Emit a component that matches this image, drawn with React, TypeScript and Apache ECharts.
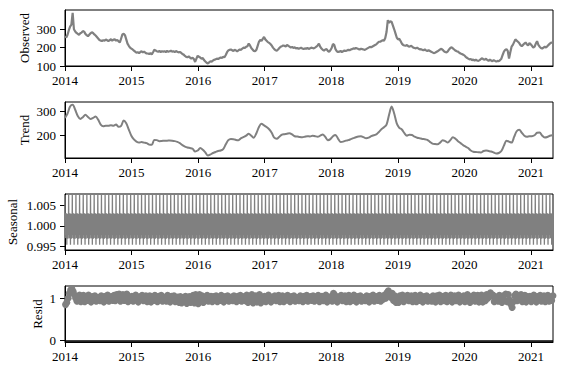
import React, { useEffect, useRef } from "react";
import * as echarts from "echarts";

// ---- axis ticks ----
const YEAR_TICKS = [2014, 2015, 2016, 2017, 2018, 2019, 2020, 2021];
const START_YEAR = 2014;
const END_YEAR = 2021.33;
const OBS_TICKS = [100, 200, 300];
const TREND_TICKS = [200, 300];
const SEASONAL_TICKS = [0.995, 1.0, 1.005];
const RESID_TICKS = [0, 1];

// ---- observed, one value per week from 2014-01-01 ----
const OBSERVED_WEEKLY = [
  // 2014
  262, 255, 270, 295, 315, 325, 390, 300, 288, 280, 275, 270, 278,
  282, 290, 287, 275, 268, 262, 270, 278, 284, 280, 272, 266, 258,
  250, 242, 238, 236, 240, 238, 244, 240, 236, 240, 246, 238, 244,
  245, 238, 242, 234, 228, 250, 272, 276, 268, 245, 222, 210, 200,
  // 2015
  195, 190, 184, 178, 172, 175, 170, 176, 180, 174, 178, 172, 168,
  168, 165, 170, 163, 175, 188, 185, 180, 178, 182, 176, 180, 178,
  180, 176, 182, 178, 180, 183, 178, 180, 176, 181, 178, 174, 176,
  172, 165, 162, 155, 150, 148, 152, 146, 140, 145, 138, 122, 140,
  // 2016
  156, 150, 146, 140, 143, 132, 125, 118, 114, 120, 126, 124, 130,
  134, 136, 140, 138, 142, 146, 144, 150, 148, 160, 175, 185, 188,
  190, 186, 182, 188, 185, 180, 186, 190, 188, 195, 200, 198, 205,
  208, 222, 212, 198, 190, 182, 180, 188, 210, 232, 242, 236, 248,
  // 2017
  258, 245, 238, 230, 226, 220, 212, 200, 192, 186, 184, 190, 198,
  205, 208, 212, 210, 206, 214, 210, 205, 200, 204, 198, 202, 196,
  198, 194, 196, 200, 195, 192, 196, 194, 198, 193, 196, 200, 198,
  196, 200, 205, 212, 222, 205, 195, 188, 184, 190, 192, 182, 178,
  // 2018
  186, 198, 220, 215, 192, 180, 176, 178, 182, 176, 180, 184, 182,
  185, 188, 186, 190, 192, 196, 194, 198, 195, 192, 190, 194, 192,
  190, 188, 192, 196, 200, 204, 202, 206, 210, 214, 218, 225, 232,
  232, 236, 240, 238, 252, 285, 350, 335, 344, 340, 320, 300, 278,
  // 2019
  255, 245, 248, 236, 222, 215, 212, 210, 214, 208, 205, 210, 206,
  200, 198, 196, 200, 195, 190, 192, 188, 186, 190, 185, 182, 186,
  182, 178, 174, 170, 172, 176, 180, 185, 190, 194, 188, 180, 176,
  174, 180, 190, 198, 202, 196, 190, 184, 180, 178, 172, 168, 165,
  // 2020
  162, 158, 150, 145, 140, 136, 138, 132, 135, 130, 134, 130, 128,
  132, 138, 142, 136, 134, 140, 132, 128, 135, 130, 126, 132, 128,
  124, 128, 126, 132, 140, 160, 178, 188, 192, 182, 140, 175, 205,
  215, 230, 245, 238, 232, 225, 214, 208, 215, 222, 228, 218, 212,
  // 2021
  225, 218, 210, 200, 205, 222, 235, 215, 205, 198, 195, 200, 205,
  200, 208, 215, 222, 228, 226,
];

// ---- trend, one value per two weeks ----
const TREND_BIWEEKLY = [
  272, 290, 318, 325, 305, 280, 268, 275, 285, 276, 268, 272, 278,
  265, 245, 238, 240, 240, 242, 240, 245, 236, 240, 262, 250, 225,
  200, 185, 176, 172, 174, 172, 170, 164, 163, 183, 182, 178, 179,
  180, 180, 181, 180, 178, 175, 170, 162, 156, 152, 150, 147, 136,
  140, 150, 143, 132, 120, 124, 130, 134, 138, 140, 146, 165, 182,
  187, 186, 183, 182, 190, 195, 200, 208, 200, 192, 210, 235, 248,
  242, 235, 226, 212, 192, 188, 196, 204, 206, 208, 210, 205, 198,
  197, 195, 194, 196, 198, 197, 200, 198, 196, 200, 205, 195, 182,
  186, 198, 203, 188, 175, 176, 180, 182, 186, 190, 194, 197, 198,
  194, 190, 192, 198, 202, 205, 215, 226, 234, 245, 285, 318, 290,
  250, 232, 225, 210, 200, 204, 203, 196, 192, 190, 187, 186, 183,
  175, 168, 166, 165, 172, 182, 178, 172, 182, 194, 188, 178, 170,
  162, 156, 150, 140, 135, 134, 133, 132, 138, 140, 138, 136, 132,
  128, 130, 138, 160, 180, 176, 172, 195, 218, 224, 212, 200, 196,
  198, 198, 202, 212, 213, 200, 193, 195, 200, 202,
];

// ---- seasonal: one 20-day cycle of the periodic component ----
const SEASONAL_PATTERN = [
  1.0076, 1.0012, 0.9978, 1.003, 0.997, 1.0022, 0.9985, 1.0031, 0.9968, 1.0018,
  0.9953, 1.0026, 0.9975, 1.003, 0.9982, 1.0015, 0.9968, 1.0028, 0.999, 1.0005,
];

// ---- residual, one value per week ----
const RESID_WEEKLY = [
  // 2014
  0.85, 0.9, 1.0, 1.12, 1.2, 1.22, 1.16, 1.08, 1.0, 0.93, 1.01, 1.08, 0.92,
  0.97, 1.07, 0.92, 1.02, 0.95, 1.08, 1.0, 0.91, 1.04, 0.98, 1.06, 0.93, 1.01,
  1.02, 0.94, 1.06, 0.99, 0.91, 1.05, 0.96, 1.08, 0.93, 1.0, 1.04, 0.95, 1.07,
  0.94, 1.09, 0.98, 1.1, 0.93, 1.02, 1.09, 0.95, 0.99, 1.1, 0.92, 1.03, 0.96,
  // 2015
  1.05, 0.93, 1.01, 1.08, 0.96, 0.91, 1.03, 0.99, 1.07, 0.94, 1.0, 1.06, 0.92,
  0.98, 1.06, 0.91, 1.03, 0.95, 1.07, 1.0, 0.92, 1.05, 0.97, 1.07, 0.93, 1.02,
  1.01, 0.93, 1.07, 0.98, 0.91, 1.05, 0.95, 1.06, 0.92, 0.99, 1.03, 0.9, 1.04,
  0.89, 1.02, 0.96, 1.05, 0.88, 0.99, 1.04, 0.9, 0.97, 1.07, 0.89, 1.09, 0.95,
  // 2016
  0.87, 1.09, 0.99, 1.06, 0.9, 1.02, 0.95, 1.07, 0.93, 1.0, 1.05, 0.92, 1.04,
  0.96, 1.06, 0.92, 1.01, 0.95, 1.07, 0.99, 0.91, 1.04, 0.97, 1.06, 0.93, 1.0,
  1.03, 0.94, 1.06, 0.98, 0.92, 1.05, 0.95, 1.07, 0.93, 1.0, 1.04, 0.94, 1.08,
  0.9, 1.04, 0.97, 1.09, 0.89, 1.01, 1.06, 0.91, 0.98, 1.09, 0.89, 1.03, 0.95,
  // 2017
  1.05, 0.92, 1.01, 1.08, 0.96, 0.91, 1.03, 0.98, 1.06, 0.94, 1.0, 1.07, 0.92,
  0.97, 1.06, 0.92, 1.02, 0.96, 1.07, 1.0, 0.92, 1.04, 0.98, 1.06, 0.93, 1.01,
  1.02, 0.94, 1.06, 0.99, 0.92, 1.05, 0.96, 1.07, 0.93, 1.0, 1.04, 0.95, 1.06,
  0.93, 1.03, 0.98, 1.07, 0.92, 1.01, 1.05, 0.94, 0.99, 1.08, 0.91, 1.02, 0.97,
  // 2018
  1.04, 0.93, 1.12, 1.08, 0.96, 0.91, 1.03, 0.99, 1.07, 0.94, 1.0, 1.06, 0.92,
  0.97, 1.07, 0.92, 1.02, 0.95, 1.08, 1.0, 0.91, 1.04, 0.98, 1.06, 0.93, 1.01,
  1.02, 0.94, 1.06, 0.99, 0.91, 1.05, 0.96, 1.08, 0.93, 1.0, 1.04, 0.95, 1.07,
  0.93, 1.03, 0.98, 1.08, 1.0, 1.14, 1.18, 1.1, 1.02, 1.12, 0.95, 1.06, 0.9,
  // 2019
  1.0, 0.9, 1.06, 0.96, 1.08, 0.92, 1.03, 0.99, 1.07, 0.94, 1.0, 1.06, 0.92,
  0.97, 1.07, 0.92, 1.02, 0.95, 1.08, 1.0, 0.91, 1.04, 0.98, 1.06, 0.93, 1.01,
  1.02, 0.93, 1.06, 0.99, 0.91, 1.06, 0.96, 1.08, 0.92, 1.0, 1.05, 0.94, 1.07,
  0.92, 1.04, 0.98, 1.08, 0.91, 1.01, 1.06, 0.94, 0.99, 1.08, 0.91, 1.02, 0.96,
  // 2020
  1.06, 0.92, 1.01, 1.09, 0.95, 0.9, 1.04, 0.99, 1.08, 0.93, 1.0, 1.07, 0.91,
  0.96, 1.08, 0.91, 1.03, 0.94, 1.09, 1.0, 1.06, 1.13, 1.05, 1.08, 0.92, 1.01,
  1.03, 0.93, 1.07, 0.98, 0.9, 1.06, 0.95, 1.1, 0.92, 1.09, 0.96, 0.86, 0.78,
  0.92, 1.06, 1.1, 0.94, 1.05, 0.98, 1.09, 0.92, 1.03, 1.07, 0.91, 1.04, 0.96,
  // 2021
  1.05, 0.92, 1.01, 1.08, 0.96, 0.91, 1.04, 0.99, 1.07, 0.93, 1.0, 1.06, 0.92,
  0.97, 1.07, 0.93, 1.02, 0.95, 1.06,
];

const FONT = "Liberation Serif, Times New Roman, serif";
const GRAY = "#808080";

const dayToYear = (d: number) => START_YEAR + d / 365.25;

export default function App() {
  const ref = useRef<HTMLDivElement>(null);

  useEffect(() => {
    document.body.style.margin = "0";
    if (!ref.current) return;
    const chart = echarts.init(ref.current, null, { renderer: "svg" });

    const observed = OBSERVED_WEEKLY.map((v, i) => [dayToYear(i * 7), v]);
    const trend = TREND_BIWEEKLY.map((v, i) => [dayToYear(i * 14), v]);
    const resid = RESID_WEEKLY.map((v, i) => [dayToYear(i * 7 + 3), v]);
    const nDays = Math.floor((END_YEAR - START_YEAR) * 365.25) + 1;
    const seasonal: number[][] = [];
    for (let d = 0; d < nDays; d++) {
      seasonal.push([dayToYear(d), SEASONAL_PATTERN[d % SEASONAL_PATTERN.length]]);
    }

    const tops = [10, 102, 194, 286];
    const grid = tops.map((t) => ({
      left: 65,
      right: 18,
      top: t,
      height: 56,
      show: true,
      borderColor: "#000",
      borderWidth: 1,
      backgroundColor: "transparent",
      containLabel: false,
      outerBoundsMode: "none",
    }));

    const xAxis = tops.map((_, i) => ({
      type: "value",
      gridIndex: i,
      min: START_YEAR,
      max: END_YEAR,
      splitLine: { show: false },
      axisLine: { show: true, onZero: false, lineStyle: { color: "#000", width: 1 } },
      axisTick: { show: true, length: 5, customValues: YEAR_TICKS, lineStyle: { color: "#000" } },
      axisLabel: {
        customValues: YEAR_TICKS,
        formatter: (v: number) => String(Math.round(v)),
        fontFamily: FONT,
        fontSize: 13,
        color: "#000",
        margin: 8,
      },
    }));

    const yBase = (
      i: number,
      name: string,
      min: number,
      max: number,
      ticks: number[],
      gap: number,
      fmt: (v: number) => string
    ) => ({
      type: "value",
      gridIndex: i,
      min,
      max,
      name,
      nameLocation: "middle",
      nameRotate: 90,
      nameGap: gap,
      nameMoveOverlap: false,
      nameTextStyle: { fontFamily: FONT, fontSize: 13, color: "#000" },
      splitLine: { show: false },
      axisLine: { show: true, onZero: false, lineStyle: { color: "#000", width: 1 } },
      axisTick: { show: true, length: 5, customValues: ticks, lineStyle: { color: "#000" } },
      axisLabel: {
        customValues: ticks,
        formatter: fmt,
        fontFamily: FONT,
        fontSize: 13,
        color: "#000",
        margin: 9,
      },
    });

    const yAxis = [
      yBase(0, "Observed", 100, 405, OBS_TICKS, 34, (v) => String(Math.round(v))),
      yBase(1, "Trend", 109.7, 336.5, TREND_TICKS, 34, (v) => String(Math.round(v))),
      yBase(2, "Seasonal", 0.99401, 1.00787, SEASONAL_TICKS, 46, (v) => v.toFixed(3)),
      yBase(3, "Resid", -0.04, 1.293, RESID_TICKS, 21, (v) => String(Math.round(v))),
    ];

    chart.setOption({
      animation: false,
      backgroundColor: "#fff",
      grid,
      xAxis,
      yAxis,
      series: [
        {
          type: "line",
          xAxisIndex: 0,
          yAxisIndex: 0,
          data: observed,
          showSymbol: false,
          lineStyle: { color: GRAY, width: 2.2 },
          clip: true,
        },
        {
          type: "line",
          xAxisIndex: 1,
          yAxisIndex: 1,
          data: trend,
          showSymbol: false,
          smooth: 0.3,
          lineStyle: { color: GRAY, width: 2 },
          clip: true,
        },
        {
          type: "line",
          xAxisIndex: 2,
          yAxisIndex: 2,
          data: seasonal,
          showSymbol: false,
          lineStyle: { color: GRAY, width: 1.3 },
          clip: true,
        },
        {
          type: "scatter",
          xAxisIndex: 3,
          yAxisIndex: 3,
          data: resid,
          symbol: "circle",
          symbolSize: 7,
          itemStyle: { color: GRAY, opacity: 1 },
          clip: true,
          markLine: {
            silent: true,
            symbol: "none",
            label: { show: false },
            lineStyle: { color: "#000", width: 1.5, type: "solid" },
            data: [{ yAxis: 0 }],
          },
        },
      ],
    });

    return () => chart.dispose();
  }, []);

  return <div ref={ref} style={{ width: 571, height: 375 }} />;
}
